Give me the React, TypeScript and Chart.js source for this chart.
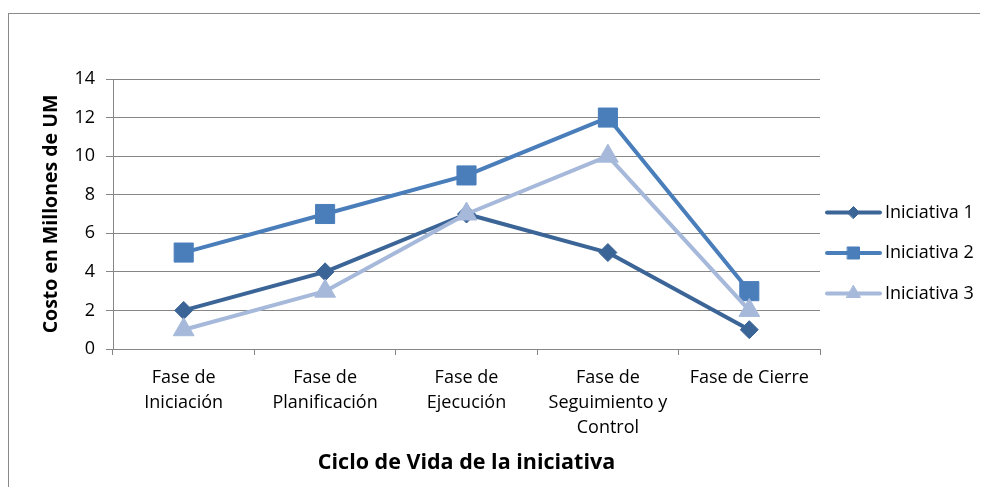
import React, { useEffect, useRef } from 'react';
import { Chart, registerables } from 'chart.js';
import { drawPoint } from 'chart.js/helpers';

Chart.register(...registerables);

const categories: string[][] = [
  ['Fase de', 'Iniciación'],
  ['Fase de', 'Planificación'],
  ['Fase de', 'Ejecución'],
  ['Fase de', 'Seguimiento y', 'Control'],
  ['Fase de Cierre'],
];
const seriesNames = ['Iniciativa 1', 'Iniciativa 2', 'Iniciativa 3'];
const iniciativa1 = [2, 4, 7, 5, 1];
const iniciativa2 = [5, 7, 9, 12, 3];
const iniciativa3 = [1, 3, 7, 10, 2];
const yMin = 0;
const yMax = 14;
const yStep = 2;
const yTitle = 'Costo en Millones de UM';
const xTitle = 'Ciclo de Vida de la iniciativa';

const FONT = '"Open Sans"';
const GRID = '#868686';
const colors = ['#3C6597', '#4A7EBB', '#A6B9DA'];
const styles = ['rectRot', 'rect', 'triangle'];
const radii = [9, 13.5, 12];
const legendRadii = [6, 8.5, 8];

const framePlugin = {
  id: 'frame',
  beforeDraw(chart: any) {
    const ctx = chart.ctx;
    ctx.save();
    ctx.fillStyle = '#fff';
    ctx.fillRect(0, 0, chart.width, chart.height);
    ctx.strokeStyle = '#8a8a8a';
    ctx.lineWidth = 1;
    ctx.strokeRect(0.5, 5.5, chart.width + 20, chart.height + 20);
    ctx.restore();
  },
};

const legendPlugin = {
  id: 'customLegend',
  afterDraw(chart: any) {
    const ctx = chart.ctx;
    const x0 = 819;
    const x1 = 872;
    const rowY0 = 204.5;
    const rowGap = 40.5;
    ctx.save();
    chart.data.datasets.forEach((ds: any, i: number) => {
      const y = rowY0 + i * rowGap;
      ctx.strokeStyle = ds.borderColor;
      ctx.lineWidth = 4;
      ctx.lineCap = 'round';
      ctx.beginPath();
      ctx.moveTo(x0, y);
      ctx.lineTo(x1, y);
      ctx.stroke();
      ctx.fillStyle = ds.borderColor;
      ctx.strokeStyle = ds.borderColor;
      ctx.lineWidth = 1;
      drawPoint(ctx, { pointStyle: ds.pointStyle, radius: legendRadii[i], borderWidth: 1, rotation: 0 }, (x0 + x1) / 2, y);
      ctx.fillStyle = '#000';
      ctx.font = `18px ${FONT}`;
      ctx.textBaseline = 'middle';
      ctx.textAlign = 'left';
      ctx.fillText(ds.label, x1 + 5, y);
    });
    ctx.restore();
  },
};

export default function App() {
  const ref = useRef<HTMLCanvasElement>(null);
  useEffect(() => {
    document.documentElement.style.overflow = 'hidden';
    const series = [iniciativa1, iniciativa2, iniciativa3];
    const chart = new Chart(ref.current!, {
      type: 'line',
      data: {
        labels: categories,
        datasets: series.map((data, i) => ({
          label: seriesNames[i],
          data,
          borderColor: colors[i],
          backgroundColor: colors[i],
          pointBackgroundColor: colors[i],
          pointBorderColor: colors[i],
          pointBorderWidth: 1,
          borderWidth: 4,
          borderJoinStyle: 'round',
          borderCapStyle: 'round',
          pointStyle: styles[i],
          pointRadius: radii[i],
          pointHoverRadius: radii[i],
          tension: 0,
          order: 2 - i,
        })),
      },
      options: {
        responsive: false,
        animation: false,
        events: [],
        layout: { padding: { left: 0, top: 71, right: 168, bottom: 0 } },
        plugins: {
          legend: { display: false },
          tooltip: { enabled: false },
          title: { display: false },
        },
        scales: {
          x: {
            offset: true,
            afterFit(scale: any) {
              scale.height = 138;
            },
            grid: {
              offset: true,
              drawOnChartArea: false,
              drawTicks: true,
              tickLength: 6,
              color: GRID,
              lineWidth: 1,
            },
            border: { display: true, color: GRID, width: 1 },
            ticks: {
              color: '#000',
              padding: 10,
              maxRotation: 0,
              autoSkip: false,
              font: { family: FONT, size: 18, lineHeight: '25px' },
            },
            title: {
              display: true,
              text: xTitle,
              color: '#000',
              font: { family: FONT, size: 21.5, weight: 'bold', lineHeight: 1.2 },
              padding: { top: 0, bottom: 11 },
            },
          },
          y: {
            min: yMin,
            max: yMax,
            afterFit(scale: any) {
              scale.width = 105;
            },
            ticks: {
              stepSize: yStep,
              color: '#000',
              padding: 11,
              font: { family: FONT, size: 18 },
            },
            grid: {
              color: GRID,
              lineWidth: 1,
              tickLength: 7,
              drawTicks: true,
            },
            border: { display: true, color: GRID, width: 1 },
            title: {
              display: true,
              text: yTitle,
              color: '#000',
              font: { family: FONT, size: 19.5, weight: 'bold', lineHeight: 1.2 },
              padding: { top: 32, bottom: 0 },
            },
          },
        },
      },
      plugins: [framePlugin, legendPlugin],
    } as any);
    return () => chart.destroy();
  }, []);
  return (
    <div style={{ width: 980, height: 479 }}>
      <canvas ref={ref} width={980} height={479} style={{ display: 'block' }} />
    </div>
  );
}
